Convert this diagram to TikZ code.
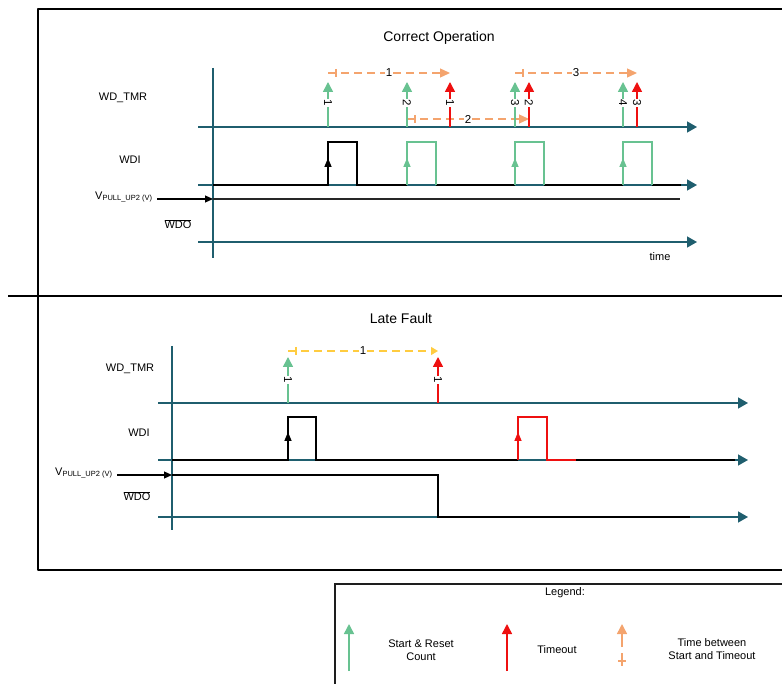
\documentclass[tikz,border=0pt]{standalone}
\usepackage{fontspec}
\setmainfont{Liberation Sans}
\usetikzlibrary{arrows.meta,calc}
\definecolor{tealc}{RGB}{31,94,110}
\definecolor{greenc}{RGB}{104,194,145}
\definecolor{redc}{RGB}{238,16,16}
\definecolor{orangec}{RGB}{244,164,110}
\definecolor{yellowc}{RGB}{255,204,64}
\definecolor{boxc}{RGB}{30,30,30}
\begin{document}
\begin{tikzpicture}[x=1pt,y=-1pt,
  axisln/.style={draw=tealc,line width=1.5pt,-{Triangle[length=10pt,width=11pt]}},
  vaxis/.style={draw=tealc,line width=1.5pt},
  sig/.style={draw=black,line width=1.5pt},
  gpulse/.style={draw=greenc,line width=1.5pt},
  rpulse/.style={draw=redc,line width=1.2pt},
  edgearr/.style={-{Triangle[length=9pt,width=7pt]}},
  gmark/.style={draw=greenc,line width=1.5pt,-{Triangle[length=10pt,width=10pt]}},
  rmark/.style={draw=redc,line width=1.5pt,-{Triangle[length=10pt,width=10pt]}},
  omark/.style={draw=orangec,line width=1.5pt,-{Triangle[length=10pt,width=10pt]}},
  odash/.style={draw=orangec,line width=1.3pt,dash pattern=on 8pt off 5pt,-{Triangle[length=10pt,width=9pt]}},
  ydash/.style={draw=yellowc,line width=1.3pt,dash pattern=on 8pt off 5pt,-{Triangle[length=7pt,width=8pt]}},
  otick/.style={draw=orangec,line width=1.2pt},
  ytick/.style={draw=yellowc,line width=1.2pt},
  numlbl/.style={font=\fontsize{11.5}{11.5}\selectfont,fill=white,inner sep=0.6pt,rotate=-90},
  dlbl/.style={font=\fontsize{11.5}{11.5}\selectfont,fill=white,inner sep=0.8pt},
  txt/.style={font=\fontsize{11}{13}\selectfont,align=center,inner sep=0pt},
  ttl/.style={font=\fontsize{14}{16}\selectfont,inner sep=0pt},
  panel/.style={draw=black,line width=2.5pt,line join=round},
  vpin/.style={draw=black,line width=1.2pt,-{Triangle[length=8pt,width=7pt]}}
]
\useasboundingbox (0,0) rectangle (782,684);

% ---------- panel frames ----------
\draw[panel] (782,9) -- (38,9) -- (38,570) -- (782,570);
\draw[panel] (8,296) -- (782,296);

% ================= Correct Operation =================
\node[ttl] (t1) at (439,38) {Correct Operation};
\draw[vaxis] (213,68) -- (213,258);
\node[txt] (l1tmr) at (123,98) {WD\_TMR};
\node[txt] (l1wdi) at (130,160) {WDI};
\node[txt,anchor=base west] (l1vp) at (95,199.5) {V{\raisebox{-1pt}{\fontsize{7.5}{8}\selectfont PULL\_UP2 (V)}}};
\node[txt] (l1wdo) at (178,224) {\(\overline{\mbox{WDO}}\)};
\node[txt] (ltime) at (660,257) {time};

\coordinate (a1s) at (198,127); \coordinate (a1e) at (697,127);
\coordinate (a2s) at (198,185); \coordinate (a2e) at (697,185);
\coordinate (a3s) at (198,242); \coordinate (a3e) at (697,242);
\draw[axisln] (a1s) -- (a1e);
\draw[axisln] (a2s) -- (a2e);
\draw[axisln] (a3s) -- (a3e);

% V pull-up line
\coordinate (vp1s) at (157,199); \coordinate (vp1a) at (213,199); \coordinate (vp1e) at (680,199);
\draw[vpin] (vp1s) -- (vp1a);
\draw[draw=black!85,line width=1.2pt] (vp1a) -- (vp1e);

% WDI signal
\draw[sig] (213,185) -- (328,185) -- (328,142) -- (357,142) -- (357,185) -- (407,185);
\draw[sig,edgearr] (328,185) -- (328,158);
\draw[sig] (436,185) -- (515,185);
\draw[sig] (544,185) -- (623,185);
\draw[sig] (652,185) -- (681,185);
\foreach \x/\nm in {407/pa,515/pb,623/pc}{
  \draw[gpulse] (\x,185) -- (\x,142) -- ($(\x,142)+(29,0)$) -- ($(\x,185)+(29,0)$);
  \draw[gpulse,edgearr] (\x,185) -- (\x,158);
}

% orange dashed spans
\coordinate (oa-s) at (328,73); \coordinate (oa-e) at (450,73);
\coordinate (ob-s) at (407,119); \coordinate (ob-e) at (529,119);
\coordinate (oc-s) at (515,73); \coordinate (oc-e) at (637,73);
\foreach \nm/\n in {oa/1,ob/2,oc/3}{
  \draw[odash] (\nm-s) -- (\nm-e) node[midway,dlbl] (\nm-l) {\n};
  \draw[otick] ($(\nm-s)+(8,-4)$) -- ($(\nm-s)+(8,4)$);
}

% start / timeout markers
\foreach \x/\n/\nm in {328/1/ga,407/2/gb,515/3/gc,623/4/gd}{
  \coordinate (\nm-b) at (\x,127); \coordinate (\nm-t) at (\x,82);
  \draw[gmark] (\nm-b) -- (\nm-t);
  \node[numlbl] (\nm-l) at (\x,103) {\n};
}
\foreach \x/\n/\nm in {450/1/ra,529/2/rb,637/3/rc}{
  \coordinate (\nm-b) at (\x,127); \coordinate (\nm-t) at (\x,82);
  \draw[rmark] (\nm-b) -- (\nm-t);
  \node[numlbl] (\nm-l) at (\x,103) {\n};
}

% ================= Late Fault =================
\node[ttl] (t2) at (401,318) {Late Fault};
\draw[vaxis] (172,346) -- (172,530);
\node[txt] (l2tmr) at (130,369) {WD\_TMR};
\node[txt] (l2wdi) at (139,433) {WDI};
\node[txt,anchor=base west] (l2vp) at (55,475.5) {V{\raisebox{-1pt}{\fontsize{7.5}{8}\selectfont PULL\_UP2 (V)}}};
\node[txt] (l2wdo) at (137,496) {\(\overline{\mbox{WDO}}\)};

\coordinate (b1s) at (158,403); \coordinate (b1e) at (748,403);
\coordinate (b2s) at (158,460); \coordinate (b2e) at (748,460);
\coordinate (b3s) at (158,517); \coordinate (b3e) at (748,517);
\draw[axisln] (b1s) -- (b1e);
\draw[axisln] (b2s) -- (b2e);
\draw[axisln] (b3s) -- (b3e);

% V pull-up / WDO
\coordinate (vp2s) at (117,475); \coordinate (vp2a) at (172,475);
\draw[vpin] (vp2s) -- (vp2a);
\draw[sig] (vp2a) -- (438,475) -- (438,517) -- (690,517);

% WDI signal
\draw[sig] (172,460) -- (288,460) -- (288,417) -- (316,417) -- (316,460) -- (518,460);
\draw[sig,edgearr] (288,460) -- (288,432);
\draw[rpulse] (518,460) -- (518,417) -- (547,417) -- (547,460) -- (576,460);
\draw[rpulse,line width=1.5pt,edgearr] (518,460) -- (518,432);
\draw[sig] (576,460) -- (735,460);

% yellow dashed span
\coordinate (ya-s) at (288,351); \coordinate (ya-e) at (438,351);
\draw[ydash] (ya-s) -- (ya-e) node[midway,dlbl] (ya-l) {1};
\draw[ytick] ($(ya-s)+(8,-4)$) -- ($(ya-s)+(8,4)$);

\coordinate (gl-b) at (288,403); \coordinate (gl-t) at (288,357);
\draw[gmark] (gl-b) -- (gl-t);
\node[numlbl] (gl-l) at (288,380) {1};
\coordinate (rl-b) at (438,403); \coordinate (rl-t) at (438,357);
\draw[rmark] (rl-b) -- (rl-t);
\node[numlbl] (rl-l) at (438,380) {1};

% ================= Legend =================
\draw[draw=boxc,line width=1.2pt] (335,684) -- (335,584) -- (782,584);
\node[txt] (lg) at (565,593) {Legend:};
\coordinate (lg1b) at (349,671); \coordinate (lg1t) at (349,624);
\draw[gmark] (lg1b) -- (lg1t);
\node[txt] (lg1) at (421,650) {Start \& Reset\\Count};
\coordinate (lg2b) at (507,671); \coordinate (lg2t) at (507,624);
\draw[rmark] (lg2b) -- (lg2t);
\node[txt] (lg2) at (557,650) {Timeout};
\coordinate (lg3b) at (622,647); \coordinate (lg3t) at (622,624);
\draw[omark] (lg3b) -- (lg3t);
\draw[otick] (622,653) -- (622,666);
\draw[otick] (618,661) -- (626,661);
\node[txt] (lg3) at (712,649) {Time between\\Start and Timeout};
\end{tikzpicture}
\end{document}
